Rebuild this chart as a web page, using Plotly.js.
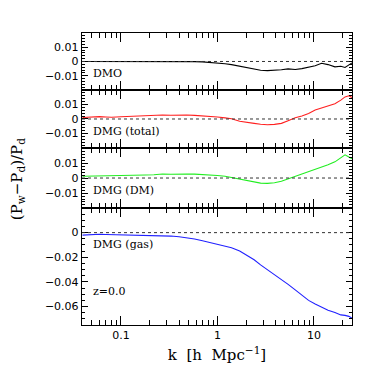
<!DOCTYPE html>
<html>
<head>
<meta charset="utf-8">
<script src="https://cdn.plot.ly/plotly-3.0.1.min.js"></script>
<style>
  html, body { margin: 0; padding: 0; background: #fff; }
  #chart { width: 384px; height: 384px; }
</style>
</head>
<body>
<div id="chart"></div>
<script>
// wavenumber grid, h/Mpc
const K = [0.04, 0.05, 0.06, 0.07, 0.08, 0.1, 0.12, 0.15, 0.18, 0.22, 0.27, 0.33, 0.4,
  0.48, 0.58, 0.7, 0.85, 1.0, 1.2, 1.4, 1.7, 2.0, 2.4, 2.8, 3.3, 3.9, 4.6, 5.4, 6.4,
  7.5, 8.8, 10.3, 12, 14, 16.5, 19, 21, 23, 24.8];

const DMO = [0.0000, 0.0000, 0.0000, 0.0001, 0.0000, 0.0000, 0.0001, 0.0001, 0.0002,
  0.0004, 0.0003, 0.0002, 0.0001, 0.0000, -0.0001, -0.0003, -0.0006, -0.0010, -0.0016,
  -0.0022, -0.0032, -0.0042, -0.0055, -0.0062, -0.0064, -0.0063, -0.0058, -0.0052,
  -0.0056, -0.0050, -0.0040, -0.0030, -0.0013, -0.0022, -0.0038, -0.0034, -0.0042,
  -0.0024, -0.0010];

const DMG_TOTAL = [0.0010, 0.0014, 0.0016, 0.0014, 0.0012, 0.0015, 0.0018, 0.0020,
  0.0022, 0.0024, 0.0027, 0.0026, 0.0029, 0.0027, 0.0025, 0.0022, 0.0018, 0.0014,
  0.0008, 0.0002, -0.0015, -0.0024, -0.0030, -0.0036, -0.0040, -0.0037, -0.0030,
  -0.0012, 0.0008, 0.0020, 0.0038, 0.0062, 0.0075, 0.0088, 0.0105, 0.0130, 0.0152,
  0.0160, 0.0148];

const DMG_DM = [0.0012, 0.0013, 0.0014, 0.0012, 0.0012, 0.0015, 0.0016, 0.0018, 0.0020,
  0.0022, 0.0027, 0.0025, 0.0028, 0.0026, 0.0026, 0.0024, 0.0021, 0.0017, 0.0012,
  0.0004, -0.0008, -0.0018, -0.0028, -0.0034, -0.0036, -0.0032, -0.0022, -0.0006,
  0.0010, 0.0022, 0.0040, 0.0057, 0.0072, 0.0088, 0.0108, 0.0135, 0.0155, 0.0140,
  0.0128];

const DMG_GAS = [-0.0020, -0.0015, -0.0013, -0.0015, -0.0016, -0.0017, -0.0016, -0.0018,
  -0.0019, -0.0021, -0.0025, -0.0028, -0.0034, -0.0042, -0.0052, -0.0066, -0.0082,
  -0.0098, -0.0110, -0.0122, -0.0150, -0.0180, -0.0220, -0.0262, -0.0300, -0.0340,
  -0.0380, -0.0420, -0.0465, -0.0510, -0.0550, -0.0580, -0.0605, -0.0630, -0.0648,
  -0.0668, -0.0672, -0.0680, -0.0695];

const PANEL_LABELS = ['DMO', 'DMG (total)', 'DMG (DM)', 'DMG (gas)'];
const X_MAJOR = [0.1, 1, 10];
const X_MAJOR_TEXT = ['0.1', '1', '10'];
const X_MINOR = [0.04, 0.05, 0.06, 0.07, 0.08, 0.09, 0.2, 0.3, 0.4, 0.5, 0.6, 0.7, 0.8,
  0.9, 2, 3, 4, 5, 6, 7, 8, 9, 20];
const Y_SMALL_TICKS = [-0.01, 0, 0.01];
const Y_SMALL_TEXT = ['\u22120.01', '0', '0.01'];
const Y_GAS_TICKS = [-0.06, -0.04, -0.02, 0];
const Y_GAS_TEXT = ['\u22120.06', '\u22120.04', '\u22120.02', '0'];

const SERIF = 'DejaVu Serif, serif';
const SANS = 'DejaVu Sans, sans-serif';
const XRANGE = [Math.log10(0.0395), Math.log10(24.8)];

// panel domains in paper units, top to bottom
const DOMAINS = [[0.805, 1], [0.606, 0.805], [0.4007, 0.606], [0, 0.4007]];
const YRANGES = [[-0.02, 0.02], [-0.02, 0.02], [-0.02, 0.02], [-0.075, 0.02]];
const SERIES = [DMO, DMG_TOTAL, DMG_DM, DMG_GAS];
const COLORS = ['#000000', '#ff2020', '#22ee22', '#2020ff'];

const traces = SERIES.map((ys, i) => ({
  x: K,
  y: ys,
  xaxis: i === 0 ? 'x' : 'x' + (i + 1),
  yaxis: i === 0 ? 'y' : 'y' + (i + 1),
  type: 'scatter',
  mode: 'lines',
  line: {color: COLORS[i], width: 1.1},
  hoverinfo: 'none',
}));

const layout = {
  width: 384,
  height: 384,
  margin: {l: 82, r: 32, t: 33, b: 59},
  paper_bgcolor: '#fff',
  plot_bgcolor: '#fff',
  showlegend: false,
  font: {family: SANS, size: 11, color: '#000'},
  shapes: [],
  annotations: [],
};

DOMAINS.forEach((dom, i) => {
  const sfx = i === 0 ? '' : String(i + 1);
  const last = i === DOMAINS.length - 1;
  layout['xaxis' + sfx] = {
    type: 'log',
    range: XRANGE,
    anchor: 'y' + sfx,
    domain: [0, 1],
    showgrid: false,
    zeroline: false,
    showline: true,
    linecolor: '#000',
    linewidth: 1.2,
    mirror: 'ticks',
    ticks: 'inside',
    ticklen: 9,
    tickwidth: 1,
    tickcolor: '#000',
    tickmode: 'array',
    tickvals: X_MAJOR,
    ticktext: X_MAJOR_TEXT,
    showticklabels: last,
    tickfont: {family: SANS, size: 11},
    minor: {ticks: 'inside', ticklen: 5, tickwidth: 1, tickcolor: '#000',
      tickmode: 'array', tickvals: X_MINOR, showgrid: false},
  };
  if (last) {
    layout['xaxis' + sfx].title = {
      text: 'k  [h  Mpc<sup>\u22121</sup>]',
      font: {family: SERIF, size: 15},
      standoff: 8,
    };
  }
  const gas = last;
  layout['yaxis' + sfx] = {
    domain: dom,
    range: YRANGES[i],
    anchor: 'x' + sfx,
    showgrid: false,
    zeroline: false,
    showline: true,
    linecolor: '#000',
    linewidth: 1.2,
    mirror: 'ticks',
    ticks: 'inside',
    ticklen: 6,
    tickwidth: 1,
    tickcolor: '#000',
    tickmode: 'array',
    tickvals: gas ? Y_GAS_TICKS : Y_SMALL_TICKS,
    ticktext: gas ? Y_GAS_TEXT : Y_SMALL_TEXT,
    tickfont: {family: SANS, size: 11},
    minor: {ticks: 'inside', ticklen: 3, tickwidth: 1, tickcolor: '#000',
      dtick: gas ? 0.005 : 0.002, showgrid: false},
  };
  // dotted zero reference
  layout.shapes.push({
    type: 'line', xref: 'x' + sfx + ' domain', yref: 'y' + sfx,
    x0: 0, x1: 1, y0: 0, y1: 0,
    line: {color: '#333', width: 1, dash: 'dot'},
  });
  layout.annotations.push({
    text: PANEL_LABELS[i],
    xref: 'x' + sfx + ' domain', yref: 'y' + sfx,
    x: 0.035, y: gas ? -0.0095 : -0.0085,
    xanchor: 'left', yanchor: 'middle',
    showarrow: false,
    font: {family: SERIF, size: 11},
  });
});

layout.annotations.push({
  text: 'z=0.0',
  xref: 'x4 domain', yref: 'y4',
  x: 0.035, y: -0.0475,
  xanchor: 'left', yanchor: 'middle',
  showarrow: false,
  font: {family: SERIF, size: 11},
});

layout.annotations.push({
  text: '(P<sub>w</sub>\u2212P<sub>d</sub>)/P<sub>d</sub>',
  xref: 'paper', yref: 'paper',
  x: -0.24, y: 0.5,
  xanchor: 'center', yanchor: 'middle',
  textangle: -90,
  showarrow: false,
  font: {family: SERIF, size: 15},
});

Plotly.newPlot('chart', traces, layout, {displayModeBar: false, staticPlot: true});
</script>
</body>
</html>
